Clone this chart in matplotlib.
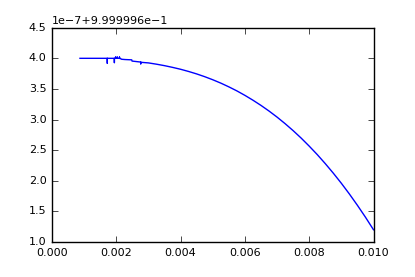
import matplotlib
matplotlib.use("Agg")
import matplotlib.pyplot as plt
from matplotlib.ticker import ScalarFormatter, FixedLocator

plt.style.use('classic')

x_vals = [0.00087, 0.00172, 0.00172, 0.00172, 0.00194, 0.00194, 0.00194,
          0.00198, 0.00198, 0.00198, 0.00203, 0.00203, 0.00203,
          0.00210, 0.00210, 0.00210, 0.00215, 0.00216, 0.00227, 0.00248,
          0.00249, 0.00274, 0.00276, 0.00276, 0.00276, 0.00300,
          0.00325, 0.00350, 0.00375, 0.00400, 0.00425, 0.00450, 0.00475,
          0.00500, 0.00525, 0.00550, 0.00575, 0.00600, 0.00625, 0.00650,
          0.00675, 0.00700, 0.00725, 0.00750, 0.00775, 0.00800, 0.00825,
          0.00850, 0.00875, 0.00900, 0.00925, 0.00950, 0.00975, 0.01000]
y_vals = [1.0000000000, 1.0000000000, 0.9999999920, 1.0000000000,
          1.0000000000, 0.9999999930, 1.0000000000,
          1.0000000000, 1.0000000020, 1.0000000000,
          1.0000000000, 1.0000000020, 1.0000000000,
          1.0000000000, 1.0000000020, 1.0000000000,
          0.9999999990, 0.9999999985, 0.9999999980, 0.9999999975,
          0.9999999955, 0.9999999940, 0.9999999940, 0.9999999910, 0.9999999935,
          0.9999999925,
          0.9999999904, 0.9999999880, 0.9999999852, 0.9999999821, 0.9999999785,
          0.9999999745, 0.9999999700, 0.9999999650, 0.9999999595, 0.9999999534,
          0.9999999468, 0.9999999395, 0.9999999316, 0.9999999231, 0.9999999139,
          0.9999999040, 0.9999998933, 0.9999998819, 0.9999998697, 0.9999998566,
          0.9999998428, 0.9999998280, 0.9999998124, 0.9999997959, 0.9999997784,
          0.9999997599, 0.9999997405, 0.9999997200]
y_ticks = [0.9999997, 0.99999975, 0.9999998, 0.99999985, 0.9999999,
           0.99999995, 1.0, 1.00000005]

fig = plt.figure(figsize=(4.15, 2.77), dpi=100)
ax = fig.add_axes([52/415, 35/277, 321.5/415, 214.3/277])
ax.plot(x_vals, y_vals, color='b', linewidth=1)
ax.set_xlim(0, 0.010)
ax.set_ylim(0.9999997, 1.00000005)
ax.yaxis.set_major_locator(FixedLocator(y_ticks))
fmt = ScalarFormatter(useOffset=0.9999996)
ax.yaxis.set_major_formatter(fmt)
ax.tick_params(labelsize=8)
ax.yaxis.get_offset_text().set_fontsize(8)
fig.savefig("out.png", dpi=100)
